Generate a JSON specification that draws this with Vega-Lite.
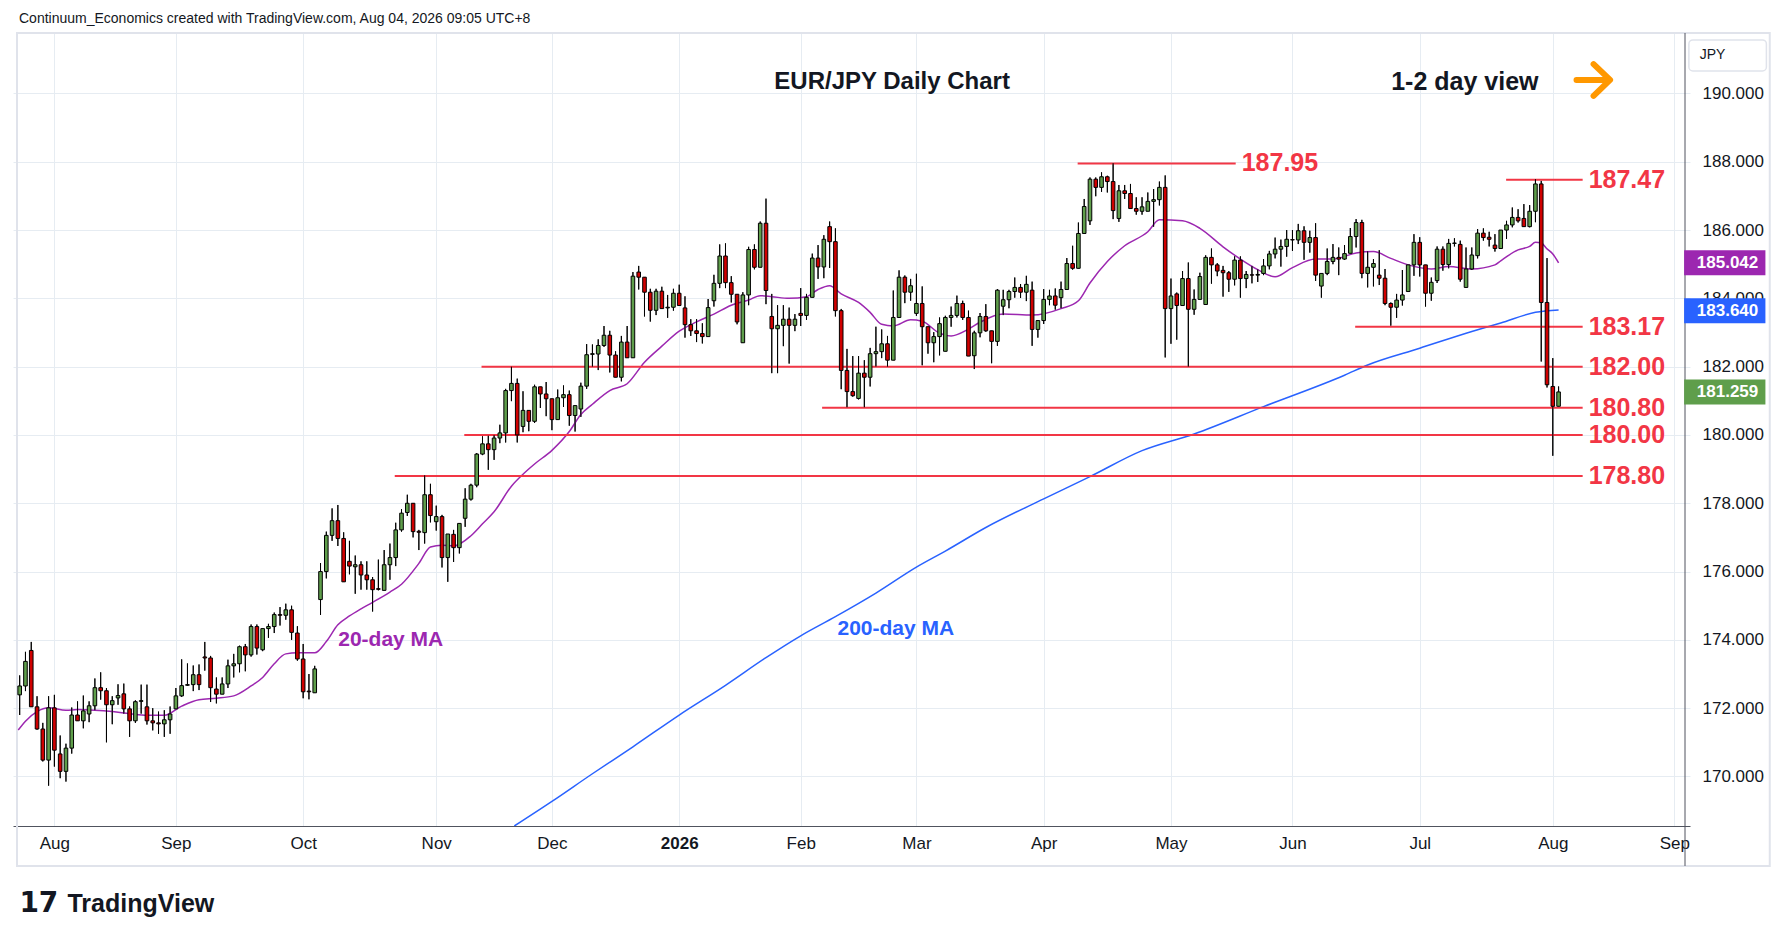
{
  "$schema": "https://vega.github.io/schema/vega-lite/v6.json",
  "width": 1677,
  "height": 793,
  "autosize": {"type": "none"},
  "padding": {"left": 13, "top": 33, "right": 99, "bottom": 115},
  "background": "#ffffff",
  "config": {"view": {"stroke": null}, "font": "Liberation Sans"},
  "data": {"values": [{}]},
  "datasets": {
    "candles": [
      {"i":1,"o":172.39,"h":172.96,"l":171.80,"c":172.65},{"i":2,"o":172.65,"h":173.65,"l":172.50,"c":173.37},
      {"i":3,"o":173.69,"h":173.94,"l":172.04,"c":172.04},{"i":4,"o":172.04,"h":172.35,"l":171.37,"c":171.39},
      {"i":5,"o":171.39,"h":171.57,"l":170.44,"c":170.48},{"i":6,"o":170.48,"h":172.35,"l":169.73,"c":172.01},
      {"i":7,"o":172.01,"h":172.39,"l":170.29,"c":170.77},{"i":8,"o":170.66,"h":171.20,"l":169.95,"c":170.15},
      {"i":9,"o":170.15,"h":170.96,"l":169.85,"c":170.83},{"i":10,"o":170.83,"h":172.02,"l":170.67,"c":171.80},
      {"i":11,"o":171.80,"h":172.20,"l":171.63,"c":171.63},{"i":12,"o":171.63,"h":172.37,"l":171.41,"c":171.92},
      {"i":13,"o":171.83,"h":172.20,"l":171.59,"c":172.07},{"i":14,"o":172.07,"h":172.87,"l":171.94,"c":172.60},
      {"i":15,"o":172.60,"h":173.05,"l":172.25,"c":172.51},{"i":16,"o":172.51,"h":172.59,"l":171.00,"c":172.10},
      {"i":17,"o":172.10,"h":172.35,"l":171.53,"c":172.22},{"i":18,"o":172.30,"h":172.70,"l":172.10,"c":172.37},
      {"i":19,"o":172.42,"h":172.72,"l":171.84,"c":171.98},{"i":20,"o":171.98,"h":172.05,"l":171.16,"c":171.63},
      {"i":21,"o":171.63,"h":172.23,"l":171.57,"c":172.19},{"i":22,"o":172.20,"h":172.69,"l":171.84,"c":172.22},
      {"i":23,"o":172.04,"h":172.69,"l":171.52,"c":171.63},{"i":24,"o":171.63,"h":172.00,"l":171.35,"c":171.57},
      {"i":25,"o":171.57,"h":171.90,"l":171.25,"c":171.54},{"i":26,"o":171.54,"h":171.94,"l":171.16,"c":171.66},
      {"i":27,"o":171.66,"h":172.05,"l":171.25,"c":171.83},{"i":28,"o":171.98,"h":172.59,"l":171.98,"c":172.36},
      {"i":29,"o":172.36,"h":173.43,"l":172.33,"c":172.66},{"i":30,"o":172.67,"h":173.31,"l":172.65,"c":172.69},
      {"i":31,"o":172.69,"h":173.25,"l":172.50,"c":172.98},{"i":32,"o":172.98,"h":173.28,"l":172.53,"c":172.69},
      {"i":33,"o":173.50,"h":173.94,"l":173.10,"c":173.47},{"i":34,"o":173.47,"h":173.53,"l":172.18,"c":172.60},
      {"i":35,"o":172.56,"h":172.90,"l":172.14,"c":172.41},{"i":36,"o":172.41,"h":172.90,"l":172.41,"c":172.71},
      {"i":37,"o":172.71,"h":173.42,"l":172.59,"c":173.24},{"i":38,"o":173.24,"h":173.59,"l":172.90,"c":173.30},
      {"i":39,"o":173.30,"h":173.83,"l":173.05,"c":173.80},{"i":40,"o":173.80,"h":173.88,"l":173.08,"c":173.56},
      {"i":41,"o":173.56,"h":174.45,"l":173.51,"c":174.39},{"i":42,"o":174.39,"h":174.45,"l":173.57,"c":173.76},
      {"i":43,"o":173.71,"h":174.33,"l":173.67,"c":174.33},{"i":44,"o":174.33,"h":174.47,"l":174.06,"c":174.39},
      {"i":45,"o":174.39,"h":174.80,"l":174.20,"c":174.74},{"i":46,"o":174.74,"h":174.96,"l":174.42,"c":174.72},
      {"i":47,"o":174.72,"h":175.06,"l":174.59,"c":174.88},{"i":48,"o":174.88,"h":175.00,"l":174.00,"c":174.22},
      {"i":49,"o":174.20,"h":174.40,"l":173.39,"c":173.44},{"i":50,"o":173.44,"h":173.88,"l":172.29,"c":172.48},
      {"i":51,"o":172.50,"h":173.00,"l":172.26,"c":172.48},{"i":52,"o":172.45,"h":173.24,"l":172.45,"c":173.15},
      {"i":53,"o":175.18,"h":176.25,"l":174.73,"c":176.00},{"i":54,"o":176.00,"h":177.17,"l":175.80,"c":177.06},
      {"i":55,"o":177.06,"h":177.85,"l":176.90,"c":177.49},{"i":56,"o":177.49,"h":177.95,"l":176.75,"c":176.97},
      {"i":57,"o":176.97,"h":177.15,"l":175.70,"c":175.70},{"i":58,"o":176.30,"h":176.90,"l":175.92,"c":176.16},
      {"i":59,"o":176.14,"h":176.47,"l":175.35,"c":176.20},{"i":60,"o":176.20,"h":176.30,"l":175.47,"c":175.90},
      {"i":61,"o":175.90,"h":176.30,"l":175.47,"c":175.76},{"i":62,"o":175.76,"h":175.84,"l":174.83,"c":175.47},
      {"i":63,"o":175.50,"h":176.35,"l":175.45,"c":175.48},{"i":64,"o":175.45,"h":176.63,"l":175.45,"c":176.20},
      {"i":65,"o":176.20,"h":176.82,"l":175.76,"c":176.41},{"i":66,"o":176.41,"h":177.43,"l":176.16,"c":177.22},
      {"i":67,"o":177.22,"h":177.83,"l":177.17,"c":177.71},{"i":68,"o":177.73,"h":178.25,"l":177.63,"c":178.00},
      {"i":69,"o":178.00,"h":178.00,"l":177.00,"c":177.17},{"i":70,"o":177.18,"h":177.22,"l":176.63,"c":177.15},
      {"i":71,"o":177.14,"h":178.82,"l":176.82,"c":178.25},{"i":72,"o":178.25,"h":178.57,"l":177.44,"c":177.64},
      {"i":73,"o":177.46,"h":177.93,"l":177.20,"c":177.61},{"i":74,"o":177.61,"h":177.66,"l":176.12,"c":176.41},
      {"i":75,"o":176.41,"h":177.10,"l":175.70,"c":177.10},{"i":76,"o":177.09,"h":177.22,"l":176.28,"c":176.70},
      {"i":77,"o":176.70,"h":177.41,"l":176.53,"c":177.41},{"i":78,"o":177.56,"h":178.44,"l":177.31,"c":178.12},
      {"i":79,"o":178.12,"h":178.57,"l":178.08,"c":178.53},{"i":80,"o":178.53,"h":179.47,"l":178.47,"c":179.44},
      {"i":81,"o":179.44,"h":179.96,"l":179.41,"c":179.74},{"i":82,"o":179.74,"h":179.98,"l":178.98,"c":179.57},
      {"i":83,"o":179.57,"h":180.00,"l":179.27,"c":179.91},{"i":84,"o":179.91,"h":180.30,"l":179.76,"c":180.06},
      {"i":85,"o":180.06,"h":181.35,"l":179.78,"c":181.30},{"i":86,"o":181.30,"h":182.00,"l":180.99,"c":181.51},
      {"i":87,"o":181.51,"h":181.65,"l":179.78,"c":180.00},{"i":88,"o":180.25,"h":181.28,"l":180.08,"c":180.72},
      {"i":89,"o":180.72,"h":180.72,"l":180.11,"c":180.40},{"i":90,"o":180.40,"h":181.47,"l":180.35,"c":181.41},
      {"i":91,"o":181.41,"h":181.41,"l":180.79,"c":181.20},{"i":92,"o":181.20,"h":181.55,"l":180.55,"c":181.06},
      {"i":93,"o":181.06,"h":181.06,"l":180.14,"c":180.45},{"i":94,"o":180.45,"h":181.33,"l":180.45,"c":181.09},
      {"i":95,"o":181.09,"h":181.45,"l":180.82,"c":181.18},{"i":96,"o":181.18,"h":181.30,"l":180.27,"c":180.57},
      {"i":97,"o":180.57,"h":180.86,"l":180.10,"c":180.86},{"i":98,"o":180.76,"h":181.53,"l":180.53,"c":181.43},
      {"i":99,"o":181.43,"h":182.66,"l":181.35,"c":182.35},{"i":100,"o":182.36,"h":182.65,"l":182.00,"c":182.38},
      {"i":101,"o":182.37,"h":182.80,"l":181.90,"c":182.62},{"i":102,"o":182.62,"h":183.19,"l":182.58,"c":182.92},
      {"i":103,"o":182.92,"h":183.05,"l":181.83,"c":182.34},{"i":104,"o":182.34,"h":182.45,"l":181.69,"c":181.69},
      {"i":105,"o":181.69,"h":182.90,"l":181.57,"c":182.72},{"i":106,"o":182.72,"h":183.19,"l":182.26,"c":182.26},
      {"i":107,"o":182.26,"h":184.77,"l":182.26,"c":184.65},{"i":108,"o":184.77,"h":184.95,"l":184.26,"c":184.62},
      {"i":109,"o":184.62,"h":184.62,"l":183.47,"c":184.18},{"i":110,"o":184.18,"h":184.28,"l":183.32,"c":183.65},
      {"i":111,"o":183.65,"h":184.28,"l":183.51,"c":184.21},{"i":112,"o":184.21,"h":184.34,"l":183.70,"c":183.70},
      {"i":113,"o":183.72,"h":184.10,"l":183.43,"c":183.74},{"i":114,"o":183.74,"h":184.28,"l":183.64,"c":184.15},
      {"i":115,"o":184.15,"h":184.40,"l":183.79,"c":183.79},{"i":116,"o":183.72,"h":184.06,"l":182.85,"c":183.23},
      {"i":117,"o":183.23,"h":183.39,"l":182.90,"c":183.05},{"i":118,"o":183.05,"h":183.39,"l":182.72,"c":182.97},
      {"i":119,"o":182.97,"h":183.27,"l":182.68,"c":182.88},{"i":120,"o":182.88,"h":183.98,"l":182.88,"c":183.73},
      {"i":121,"o":183.93,"h":184.69,"l":183.76,"c":184.44},{"i":122,"o":184.44,"h":185.58,"l":184.30,"c":185.24},
      {"i":123,"o":185.24,"h":185.61,"l":184.30,"c":184.46},{"i":124,"o":184.46,"h":184.65,"l":183.88,"c":184.12},
      {"i":125,"o":184.12,"h":184.12,"l":183.24,"c":183.31},{"i":126,"o":182.70,"h":184.18,"l":182.70,"c":184.10},
      {"i":127,"o":184.10,"h":185.51,"l":183.80,"c":185.43},{"i":128,"o":185.43,"h":185.58,"l":184.85,"c":184.91},
      {"i":129,"o":184.91,"h":186.25,"l":184.91,"c":186.20},{"i":130,"o":186.20,"h":186.92,"l":183.83,"c":184.23},
      {"i":131,"o":183.47,"h":184.13,"l":181.81,"c":183.11},{"i":132,"o":183.11,"h":183.80,"l":181.81,"c":183.21},
      {"i":133,"o":183.21,"h":183.80,"l":182.60,"c":183.39},{"i":134,"o":183.39,"h":183.73,"l":182.09,"c":183.21},
      {"i":135,"o":183.21,"h":183.54,"l":183.04,"c":183.39},{"i":136,"o":183.56,"h":184.30,"l":183.19,"c":183.50},
      {"i":137,"o":183.50,"h":184.13,"l":183.37,"c":184.03},{"i":138,"o":184.03,"h":185.31,"l":184.03,"c":185.18},
      {"i":139,"o":185.18,"h":185.56,"l":184.57,"c":184.92},{"i":140,"o":184.92,"h":185.85,"l":184.59,"c":185.73},
      {"i":141,"o":186.10,"h":186.25,"l":184.89,"c":185.66},{"i":142,"o":185.66,"h":186.05,"l":183.47,"c":183.64},
      {"i":143,"o":183.64,"h":183.69,"l":181.34,"c":181.89},{"i":144,"o":181.89,"h":182.52,"l":180.81,"c":181.27},
      {"i":145,"o":181.27,"h":182.31,"l":181.12,"c":181.15},{"i":146,"o":181.07,"h":182.31,"l":181.04,"c":181.81},
      {"i":147,"o":181.81,"h":182.19,"l":180.81,"c":181.69},{"i":148,"o":181.69,"h":182.55,"l":181.42,"c":182.38},
      {"i":149,"o":182.38,"h":183.17,"l":182.00,"c":182.44},{"i":150,"o":182.44,"h":183.09,"l":182.25,"c":182.67},
      {"i":151,"o":182.67,"h":182.90,"l":182.00,"c":182.19},{"i":152,"o":182.19,"h":184.23,"l":182.19,"c":183.44},
      {"i":153,"o":183.44,"h":184.82,"l":183.44,"c":184.62},{"i":154,"o":184.62,"h":184.67,"l":183.86,"c":184.18},
      {"i":155,"o":184.18,"h":184.57,"l":183.93,"c":184.37},{"i":156,"o":183.56,"h":184.72,"l":183.49,"c":183.85},
      {"i":157,"o":183.85,"h":184.35,"l":182.04,"c":183.17},{"i":158,"o":183.17,"h":183.17,"l":182.38,"c":182.70},
      {"i":159,"o":182.70,"h":183.01,"l":182.13,"c":182.88},{"i":160,"o":182.88,"h":183.44,"l":182.33,"c":183.26},
      {"i":161,"o":182.45,"h":183.49,"l":182.45,"c":183.44},{"i":162,"o":183.44,"h":183.76,"l":183.17,"c":183.50},
      {"i":163,"o":183.50,"h":184.08,"l":183.44,"c":183.85},{"i":164,"o":183.85,"h":183.93,"l":183.37,"c":183.44},
      {"i":165,"o":183.44,"h":183.64,"l":182.31,"c":182.31},{"i":166,"o":182.32,"h":183.05,"l":181.93,"c":182.99},
      {"i":167,"o":182.99,"h":183.57,"l":182.86,"c":183.47},{"i":168,"o":183.47,"h":183.83,"l":183.02,"c":183.05},
      {"i":169,"o":183.05,"h":183.05,"l":182.10,"c":182.74},{"i":170,"o":182.74,"h":184.27,"l":182.61,"c":184.24},
      {"i":171,"o":183.77,"h":184.25,"l":183.51,"c":183.96},{"i":172,"o":183.96,"h":184.25,"l":183.71,"c":184.20},
      {"i":173,"o":184.20,"h":184.61,"l":184.02,"c":184.32},{"i":174,"o":184.32,"h":184.42,"l":184.01,"c":184.18},
      {"i":175,"o":184.18,"h":184.66,"l":183.92,"c":184.41},{"i":176,"o":184.24,"h":184.49,"l":182.61,"c":183.09},
      {"i":177,"o":183.09,"h":183.35,"l":182.85,"c":183.35},{"i":178,"o":183.35,"h":184.27,"l":183.25,"c":183.97},
      {"i":179,"o":183.97,"h":184.25,"l":183.80,"c":184.07},{"i":180,"o":184.07,"h":184.29,"l":183.67,"c":183.80},
      {"i":181,"o":184.02,"h":184.49,"l":183.71,"c":184.26},{"i":182,"o":184.26,"h":185.18,"l":184.26,"c":185.02},
      {"i":183,"o":185.02,"h":185.54,"l":184.84,"c":184.88},{"i":184,"o":184.88,"h":186.22,"l":184.88,"c":185.90},
      {"i":185,"o":185.90,"h":186.91,"l":185.90,"c":186.69},{"i":186,"o":186.27,"h":187.54,"l":186.15,"c":187.49},
      {"i":187,"o":187.49,"h":187.54,"l":186.99,"c":187.25},{"i":188,"o":187.25,"h":187.69,"l":187.12,"c":187.56},
      {"i":189,"o":187.56,"h":187.59,"l":187.10,"c":187.42},{"i":190,"o":187.42,"h":187.96,"l":186.32,"c":186.57},
      {"i":191,"o":186.34,"h":187.32,"l":186.24,"c":187.15},{"i":192,"o":187.15,"h":187.32,"l":186.91,"c":187.07},
      {"i":193,"o":187.07,"h":187.35,"l":186.63,"c":186.63},{"i":194,"o":186.63,"h":186.96,"l":186.45,"c":186.55},
      {"i":195,"o":186.55,"h":186.96,"l":186.45,"c":186.68},{"i":196,"o":186.55,"h":187.10,"l":186.55,"c":186.84},
      {"i":197,"o":186.84,"h":187.20,"l":186.10,"c":186.89},{"i":198,"o":186.89,"h":187.42,"l":186.72,"c":187.25},
      {"i":199,"o":187.25,"h":187.60,"l":182.27,"c":183.70},{"i":200,"o":183.70,"h":184.58,"l":182.67,"c":184.07},
      {"i":201,"o":184.13,"h":184.17,"l":182.79,"c":183.79},{"i":202,"o":183.79,"h":184.80,"l":183.79,"c":184.58},
      {"i":203,"o":184.58,"h":185.05,"l":182.00,"c":183.68},{"i":204,"o":183.68,"h":184.26,"l":183.52,"c":183.97},
      {"i":205,"o":183.97,"h":184.75,"l":183.97,"c":184.64},{"i":206,"o":183.82,"h":185.26,"l":183.82,"c":185.20},
      {"i":207,"o":185.20,"h":185.46,"l":184.43,"c":184.98},{"i":208,"o":184.98,"h":185.03,"l":184.65,"c":184.80},
      {"i":209,"o":184.82,"h":184.95,"l":184.05,"c":184.75},{"i":210,"o":184.75,"h":184.80,"l":184.19,"c":184.56},
      {"i":211,"o":184.56,"h":185.23,"l":184.38,"c":185.12},{"i":212,"o":185.12,"h":185.23,"l":184.02,"c":184.58},
      {"i":213,"o":184.58,"h":184.80,"l":184.30,"c":184.70},{"i":214,"o":184.69,"h":184.95,"l":184.44,"c":184.68},
      {"i":215,"o":184.68,"h":184.85,"l":184.48,"c":184.70},{"i":216,"o":184.73,"h":185.15,"l":184.68,"c":184.95},
      {"i":217,"o":184.95,"h":185.39,"l":184.85,"c":185.30},{"i":218,"o":185.30,"h":185.78,"l":185.17,"c":185.44},
      {"i":219,"o":185.44,"h":185.72,"l":184.93,"c":185.52},{"i":220,"o":185.52,"h":186.00,"l":185.22,"c":185.73},
      {"i":221,"o":185.72,"h":186.00,"l":185.39,"c":185.71},{"i":222,"o":185.71,"h":186.18,"l":185.59,"c":185.98},
      {"i":223,"o":185.98,"h":186.11,"l":185.13,"c":185.64},{"i":224,"o":185.64,"h":185.98,"l":185.34,"c":185.78},
      {"i":225,"o":185.78,"h":186.20,"l":184.51,"c":184.68},{"i":226,"o":184.36,"h":184.73,"l":184.02,"c":184.73},
      {"i":227,"o":184.73,"h":185.46,"l":184.68,"c":185.08},{"i":228,"o":185.08,"h":185.59,"l":185.00,"c":185.20},
      {"i":229,"o":185.20,"h":185.49,"l":184.68,"c":185.15},{"i":230,"o":185.15,"h":185.56,"l":185.13,"c":185.31},
      {"i":231,"o":185.32,"h":186.06,"l":185.32,"c":185.81},{"i":232,"o":185.81,"h":186.32,"l":185.49,"c":186.22},
      {"i":233,"o":186.22,"h":186.30,"l":184.59,"c":184.73},{"i":234,"o":184.73,"h":185.38,"l":184.32,"c":184.91},
      {"i":235,"o":184.91,"h":185.15,"l":184.35,"c":185.02},{"i":236,"o":184.68,"h":185.41,"l":184.39,"c":184.59},
      {"i":237,"o":184.59,"h":184.86,"l":183.80,"c":183.85},{"i":238,"o":183.85,"h":183.88,"l":183.20,"c":183.74},
      {"i":239,"o":183.74,"h":184.13,"l":183.43,"c":183.95},{"i":240,"o":183.95,"h":184.83,"l":183.79,"c":184.10},
      {"i":241,"o":184.20,"h":184.98,"l":184.20,"c":184.98},{"i":242,"o":184.98,"h":185.88,"l":184.66,"c":185.64},
      {"i":243,"o":185.64,"h":185.79,"l":184.64,"c":184.98},{"i":244,"o":184.98,"h":184.98,"l":183.76,"c":184.15},
      {"i":245,"o":184.15,"h":184.61,"l":183.93,"c":184.47},{"i":246,"o":184.52,"h":185.52,"l":184.45,"c":185.44},
      {"i":247,"o":185.44,"h":185.52,"l":184.81,"c":184.99},{"i":248,"o":184.99,"h":185.74,"l":184.88,"c":185.61},
      {"i":249,"o":185.61,"h":185.76,"l":185.52,"c":185.62},{"i":250,"o":185.58,"h":185.69,"l":184.49,"c":184.56},
      {"i":251,"o":184.32,"h":185.49,"l":184.32,"c":184.86},{"i":252,"o":184.86,"h":185.49,"l":184.83,"c":185.27},
      {"i":253,"o":185.25,"h":186.03,"l":185.17,"c":185.91},{"i":254,"o":185.91,"h":186.05,"l":185.69,"c":185.78},
      {"i":255,"o":185.79,"h":185.95,"l":185.52,"c":185.73},{"i":256,"o":185.56,"h":185.88,"l":185.37,"c":185.46},
      {"i":257,"o":185.46,"h":186.00,"l":185.46,"c":186.00},{"i":258,"o":186.00,"h":186.27,"l":185.74,"c":186.15},
      {"i":259,"o":186.15,"h":186.66,"l":186.08,"c":186.37},{"i":260,"o":186.37,"h":186.61,"l":186.22,"c":186.27},
      {"i":261,"o":186.34,"h":186.76,"l":186.10,"c":186.10},{"i":262,"o":186.10,"h":186.73,"l":186.08,"c":186.55},
      {"i":263,"o":186.55,"h":187.49,"l":186.23,"c":187.35},{"i":264,"o":187.35,"h":187.44,"l":182.15,"c":183.88},
      {"i":265,"o":183.88,"h":185.18,"l":181.39,"c":181.47},{"i":266,"o":181.42,"h":182.25,"l":179.39,"c":180.84},
      {"i":267,"o":180.84,"h":181.42,"l":180.84,"c":181.26}
    ],
    "ma20": [
      {"i":0.75,"v":171.36},{"i":2,"v":171.62},{"i":4,"v":171.9},{"i":6,"v":172.01},{"i":9,"v":171.94},
      {"i":11,"v":171.96},{"i":14,"v":171.94},{"i":17,"v":171.9},{"i":20,"v":171.84},{"i":23,"v":171.79},
      {"i":26,"v":171.79},{"i":29,"v":172.06},{"i":32,"v":172.25},{"i":35,"v":172.29},{"i":38,"v":172.36},
      {"i":41,"v":172.65},{"i":43,"v":172.9},{"i":45,"v":173.3},{"i":47,"v":173.59},{"i":49,"v":173.62},
      {"i":52,"v":173.62},{"i":54,"v":173.95},{"i":56,"v":174.44},{"i":58,"v":174.7},{"i":60,"v":174.91},
      {"i":62,"v":175.1},{"i":65,"v":175.4},{"i":67,"v":175.63},{"i":70,"v":176.24},{"i":72,"v":176.72},
      {"i":74,"v":176.77},{"i":76,"v":176.75},{"i":79,"v":177.05},{"i":81,"v":177.4},{"i":83,"v":177.75},
      {"i":86,"v":178.5},{"i":88,"v":178.85},{"i":90,"v":179.15},{"i":93,"v":179.55},{"i":96,"v":180.1},
      {"i":98,"v":180.6},{"i":100,"v":180.9},{"i":103,"v":181.3},{"i":106,"v":181.5},{"i":109,"v":182.13},
      {"i":112,"v":182.6},{"i":115,"v":183.04},{"i":118,"v":183.31},{"i":121,"v":183.54},{"i":124,"v":183.8},
      {"i":127,"v":183.95},{"i":129,"v":184.08},{"i":131,"v":184.05},{"i":134,"v":184.0},{"i":137,"v":184.05},
      {"i":139,"v":184.26},{"i":141,"v":184.37},{"i":143,"v":184.13},{"i":146,"v":183.88},{"i":148,"v":183.59},
      {"i":150,"v":183.24},{"i":152,"v":183.19},{"i":155,"v":183.37},{"i":157,"v":183.33},{"i":160,"v":182.98},
      {"i":162,"v":182.9},{"i":165,"v":183.1},{"i":167,"v":183.3},{"i":171,"v":183.54},{"i":176,"v":183.51},
      {"i":181,"v":183.7},{"i":184,"v":183.93},{"i":186,"v":184.45},{"i":189,"v":185.08},{"i":192,"v":185.54},
      {"i":196,"v":185.95},{"i":198,"v":186.3},{"i":202,"v":186.27},{"i":205,"v":186.05},{"i":209,"v":185.51},
      {"i":212,"v":185.15},{"i":215,"v":184.84},{"i":218,"v":184.63},{"i":221,"v":184.9},{"i":225,"v":185.15},
      {"i":228,"v":185.15},{"i":232,"v":185.33},{"i":235,"v":185.37},{"i":238,"v":185.17},{"i":241,"v":184.98},
      {"i":245,"v":184.86},{"i":248,"v":184.93},{"i":252,"v":184.86},{"i":256,"v":184.98},{"i":257,"v":185.1},
      {"i":260,"v":185.42},{"i":262,"v":185.52},{"i":263,"v":185.64},{"i":264,"v":185.62},{"i":265,"v":185.45},
      {"i":266,"v":185.3},{"i":267,"v":185.04}
    ],
    "ma200": [
      {"i":86.5,"v":168.55},{"i":93,"v":169.27},{"i":100,"v":170.08},{"i":107,"v":170.87},{"i":115,"v":171.8},
      {"i":123,"v":172.67},{"i":130,"v":173.48},{"i":136,"v":174.12},{"i":142,"v":174.68},{"i":149,"v":175.37},
      {"i":156,"v":176.13},{"i":161,"v":176.6},{"i":168,"v":177.29},{"i":178,"v":178.13},{"i":186,"v":178.78},
      {"i":195,"v":179.54},{"i":204,"v":180.03},{"i":216,"v":180.83},{"i":230,"v":181.75},{"i":234,"v":182.05},
      {"i":243,"v":182.54},{"i":252,"v":183.03},{"i":257,"v":183.28},{"i":263,"v":183.59},{"i":267,"v":183.66}
    ],
    "levels": [
      {"v":187.95,"i1":183.87,"i2":211.19},
      {"v":187.47,"i1":257.93,"i2":271.16},
      {"v":183.17,"i1":231.84,"i2":271.16},
      {"v":182.00,"i1":80.83,"i2":271.16},
      {"v":180.80,"i1":139.7,"i2":271.16},
      {"v":180.00,"i1":77.85,"i2":271.16},
      {"v":178.80,"i1":65.83,"i2":271.16}
    ],
    "tags": [
      {"s":"ma20","v":185.042},
      {"s":"ma200","v":183.640},
      {"s":"close","v":181.259}
    ],
    "arrow": [
      {"part":"shaft","k":1,"i":270.1,"p":190.395},
      {"part":"shaft","k":2,"i":275.5,"p":190.395},
      {"part":"head","k":1,"i":273.05,"p":190.86},
      {"part":"head","k":2,"i":275.9,"p":190.395},
      {"part":"head","k":3,"i":273.05,"p":189.93}
    ]
  },
  "layer": [
    {
      "data": {"name": "candles"},
      "mark": {"type": "rule", "color": "#000000", "strokeWidth": 1},
      "encoding": {
        "x": {"field": "i", "type": "quantitative", "title": null, "scale": {"domain": [0.71, 288.85], "nice": false, "zero": false},
          "axis": {
            "title": null, "orient": "bottom",
            "values": [7, 28, 50, 73, 93, 115, 136, 156, 178, 200, 221, 243, 266, 287],
            "labelExpr": "['Aug','Sep','Oct','Nov','Dec','2026','Feb','Mar','Apr','May','Jun','Jul','Aug','Sep'][indexof([7,28,50,73,93,115,136,156,178,200,221,243,266,287], datum.value)]",
            "grid": true, "gridColor": "#e6ecf2", "gridWidth": 1,
            "ticks": false, "domain": true, "domainColor": "#50535e", "domainWidth": 1,
            "labelFont": "Liberation Sans", "labelFontSize": 17, "labelColor": "#131722",
            "labelPadding": 9, "labelFlush": false, "labelOverlap": false,
            "labelFontWeight": {"condition": {"test": "datum.value == 115", "value": "bold"}, "value": "normal"}
          }
        },
        "y": {"field": "l", "type": "quantitative", "title": null, "scale": {"domain": [168.55, 191.77], "nice": false, "zero": false},
          "axis": {
            "title": null, "orient": "right",
            "values": [170, 172, 174, 176, 178, 180, 182, 184, 186, 188, 190],
            "format": ".3f",
            "grid": true, "gridColor": "#e6ecf2", "gridWidth": 1,
            "ticks": false, "domain": false,
            "labelFont": "Liberation Sans", "labelFontSize": 17, "labelColor": "#131722",
            "labelPadding": 12, "labelAlign": "left", "labelOverlap": false
          }
        },
        "y2": {"field": "h"}
      }
    },
    {
      "mark": {"type": "rect", "fill": null, "stroke": "#e0e3eb", "strokeWidth": 2},
      "encoding": {
        "x": {"datum": 0.54, "type": "quantitative", "title": null, "scale": {"domain": [0.71, 288.85], "nice": false, "zero": false}},
        "x2": {"datum": 303.5},
        "y": {"datum": 191.77, "type": "quantitative", "title": null, "scale": {"domain": [168.55, 191.77], "nice": false, "zero": false}},
        "y2": {"datum": 167.38}
      }
    },
    {
      "data": {"name": "ma200"},
      "mark": {"type": "line", "color": "#2962ff", "strokeWidth": 1.5, "interpolate": "monotone", "clip": true},
      "encoding": {
        "x": {"field": "i", "type": "quantitative", "title": null, "scale": {"domain": [0.71, 288.85], "nice": false, "zero": false}},
        "y": {"field": "v", "type": "quantitative", "title": null, "scale": {"domain": [168.55, 191.77], "nice": false, "zero": false}}
      }
    },
    {
      "data": {"name": "ma20"},
      "mark": {"type": "line", "color": "#9c27b0", "strokeWidth": 1.5, "interpolate": "monotone", "clip": true},
      "encoding": {
        "x": {"field": "i", "type": "quantitative", "title": null, "scale": {"domain": [0.71, 288.85], "nice": false, "zero": false}},
        "y": {"field": "v", "type": "quantitative", "title": null, "scale": {"domain": [168.55, 191.77], "nice": false, "zero": false}}
      }
    },
    {
      "data": {"name": "levels"},
      "mark": {"type": "rule", "color": "#f23645", "strokeWidth": 2},
      "encoding": {
        "x": {"field": "i1", "type": "quantitative", "title": null, "scale": {"domain": [0.71, 288.85], "nice": false, "zero": false}},
        "x2": {"field": "i2"},
        "y": {"field": "v", "type": "quantitative", "title": null, "scale": {"domain": [168.55, 191.77], "nice": false, "zero": false}}
      }
    },
    {
      "data": {"name": "candles"},
      "mark": {"type": "rule", "color": "#000000", "strokeWidth": 1},
      "encoding": {
        "x": {"field": "i", "type": "quantitative", "title": null, "scale": {"domain": [0.71, 288.85], "nice": false, "zero": false}},
        "y": {"field": "l", "type": "quantitative", "title": null, "scale": {"domain": [168.55, 191.77], "nice": false, "zero": false}},
        "y2": {"field": "h"}
      }
    },
    {
      "data": {"name": "candles"},
      "mark": {"type": "bar", "size": 3.6, "stroke": "#000000", "strokeWidth": 1},
      "encoding": {
        "x": {"field": "i", "type": "quantitative", "title": null, "scale": {"domain": [0.71, 288.85], "nice": false, "zero": false}},
        "y": {"field": "o", "type": "quantitative", "title": null, "scale": {"domain": [168.55, 191.77], "nice": false, "zero": false}},
        "y2": {"field": "c"},
        "fill": {"condition": {"test": "datum.c >= datum.o", "value": "#5f9e4b"}, "value": "#d00000"}
      }
    },
    {
      "data": {"name": "levels"},
      "mark": {"type": "text", "align": "left", "baseline": "middle", "dx": 6, "font": "Liberation Sans", "fontSize": 25, "fontWeight": "bold", "color": "#f23645"},
      "encoding": {
        "x": {"field": "i2", "type": "quantitative", "title": null, "scale": {"domain": [0.71, 288.85], "nice": false, "zero": false}},
        "y": {"field": "v", "type": "quantitative", "title": null, "scale": {"domain": [168.55, 191.77], "nice": false, "zero": false}},
        "text": {"field": "v", "format": ".2f"}
      }
    },
    {
      "mark": {"type": "rule", "color": "#50535e", "strokeWidth": 1},
      "encoding": {
        "x": {"datum": 288.85, "type": "quantitative", "title": null, "scale": {"domain": [0.71, 288.85], "nice": false, "zero": false}},
        "y": {"datum": 191.77, "type": "quantitative", "title": null, "scale": {"domain": [168.55, 191.77], "nice": false, "zero": false}},
        "y2": {"datum": 167.38}
      }
    },
    {
      "data": {"name": "tags"},
      "mark": {"type": "rule", "strokeWidth": 25, "strokeCap": "butt"},
      "encoding": {
        "x": {"datum": 288.7, "type": "quantitative", "title": null, "scale": {"domain": [0.71, 288.85], "nice": false, "zero": false}},
        "x2": {"datum": 302.75},
        "y": {"field": "v", "type": "quantitative", "title": null, "scale": {"domain": [168.55, 191.77], "nice": false, "zero": false}},
        "color": {"field": "s", "type": "nominal", "scale": {"domain": ["ma20", "ma200", "close"], "range": ["#9c27b0", "#2962ff", "#5f9e4b"]}, "legend": null}
      }
    },
    {
      "data": {"name": "tags"},
      "mark": {"type": "text", "align": "left", "baseline": "middle", "font": "Liberation Sans", "fontSize": 17, "fontWeight": "bold", "color": "#ffffff"},
      "encoding": {
        "x": {"datum": 290.89, "type": "quantitative", "title": null, "scale": {"domain": [0.71, 288.85], "nice": false, "zero": false}},
        "y": {"field": "v", "type": "quantitative", "title": null, "scale": {"domain": [168.55, 191.77], "nice": false, "zero": false}},
        "text": {"field": "v", "format": ".3f"}
      }
    },
    {
      "mark": {"type": "rect", "fill": "#ffffff", "stroke": "#e0e3eb", "strokeWidth": 1.5, "cornerRadius": 4},
      "encoding": {
        "x": {"datum": 289.52, "type": "quantitative", "title": null, "scale": {"domain": [0.71, 288.85], "nice": false, "zero": false}},
        "x2": {"datum": 302.92},
        "y": {"datum": 191.567, "type": "quantitative", "title": null, "scale": {"domain": [168.55, 191.77], "nice": false, "zero": false}},
        "y2": {"datum": 190.659}
      }
    },
    {
      "mark": {"type": "text", "align": "left", "baseline": "middle", "font": "Liberation Sans", "fontSize": 14, "color": "#131722", "text": "JPY"},
      "encoding": {
        "x": {"datum": 291.4, "type": "quantitative", "title": null, "scale": {"domain": [0.71, 288.85], "nice": false, "zero": false}},
        "y": {"datum": 191.113, "type": "quantitative", "title": null, "scale": {"domain": [168.55, 191.77], "nice": false, "zero": false}}
      }
    },
    {
      "mark": {"type": "text", "align": "left", "baseline": "middle", "font": "Liberation Sans", "fontSize": 14, "color": "#131722", "text": "Continuum_Economics created with TradingView.com, Aug 04, 2026 09:05 UTC+8"},
      "encoding": {
        "x": {"datum": 0.88, "type": "quantitative", "title": null, "scale": {"domain": [0.71, 288.85], "nice": false, "zero": false}},
        "y": {"datum": 192.18, "type": "quantitative", "title": null, "scale": {"domain": [168.55, 191.77], "nice": false, "zero": false}}
      }
    },
    {
      "mark": {"type": "text", "align": "center", "baseline": "middle", "font": "Liberation Sans", "fontSize": 24, "fontWeight": "bold", "color": "#131722", "text": "EUR/JPY Daily Chart"},
      "encoding": {
        "x": {"datum": 151.8, "type": "quantitative", "title": null, "scale": {"domain": [0.71, 288.85], "nice": false, "zero": false}},
        "y": {"datum": 190.33, "type": "quantitative", "title": null, "scale": {"domain": [168.55, 191.77], "nice": false, "zero": false}}
      }
    },
    {
      "mark": {"type": "text", "align": "center", "baseline": "middle", "font": "Liberation Sans", "fontSize": 25, "fontWeight": "bold", "color": "#131722", "text": "1-2 day view"},
      "encoding": {
        "x": {"datum": 250.8, "type": "quantitative", "title": null, "scale": {"domain": [0.71, 288.85], "nice": false, "zero": false}},
        "y": {"datum": 190.33, "type": "quantitative", "title": null, "scale": {"domain": [168.55, 191.77], "nice": false, "zero": false}}
      }
    },
    {
      "data": {"name": "arrow"},
      "mark": {"type": "line", "color": "#ff9800", "strokeWidth": 6, "strokeCap": "round", "strokeJoin": "round"},
      "encoding": {
        "x": {"field": "i", "type": "quantitative", "title": null, "scale": {"domain": [0.71, 288.85], "nice": false, "zero": false}},
        "y": {"field": "p", "type": "quantitative", "title": null, "scale": {"domain": [168.55, 191.77], "nice": false, "zero": false}},
        "detail": {"field": "part"},
        "order": {"field": "k"}
      }
    },
    {
      "mark": {"type": "text", "align": "center", "baseline": "middle", "font": "Liberation Sans", "fontSize": 21, "fontWeight": "bold", "color": "#9c27b0", "text": "20-day MA"},
      "encoding": {
        "x": {"datum": 65.14, "type": "quantitative", "title": null, "scale": {"domain": [0.71, 288.85], "nice": false, "zero": false}},
        "y": {"datum": 174.0, "type": "quantitative", "title": null, "scale": {"domain": [168.55, 191.77], "nice": false, "zero": false}}
      }
    },
    {
      "mark": {"type": "text", "align": "center", "baseline": "middle", "font": "Liberation Sans", "fontSize": 21, "fontWeight": "bold", "color": "#2962ff", "text": "200-day MA"},
      "encoding": {
        "x": {"datum": 152.45, "type": "quantitative", "title": null, "scale": {"domain": [0.71, 288.85], "nice": false, "zero": false}},
        "y": {"datum": 174.32, "type": "quantitative", "title": null, "scale": {"domain": [168.55, 191.77], "nice": false, "zero": false}}
      }
    },
    {
      "mark": {"type": "text", "align": "left", "baseline": "middle", "font": "DejaVu Sans", "fontSize": 28, "fontWeight": "bold", "color": "#131722", "text": "17"},
      "encoding": {
        "x": {"datum": 0.95, "type": "quantitative", "title": null, "scale": {"domain": [0.71, 288.85], "nice": false, "zero": false}},
        "y": {"datum": 166.27, "type": "quantitative", "title": null, "scale": {"domain": [168.55, 191.77], "nice": false, "zero": false}}
      }
    },
    {
      "mark": {"type": "text", "align": "left", "baseline": "middle", "font": "Liberation Sans", "fontSize": 25, "fontWeight": "bold", "color": "#131722", "text": "TradingView"},
      "encoding": {
        "x": {"datum": 9.26, "type": "quantitative", "title": null, "scale": {"domain": [0.71, 288.85], "nice": false, "zero": false}},
        "y": {"datum": 166.27, "type": "quantitative", "title": null, "scale": {"domain": [168.55, 191.77], "nice": false, "zero": false}}
      }
    }
  ]
}
